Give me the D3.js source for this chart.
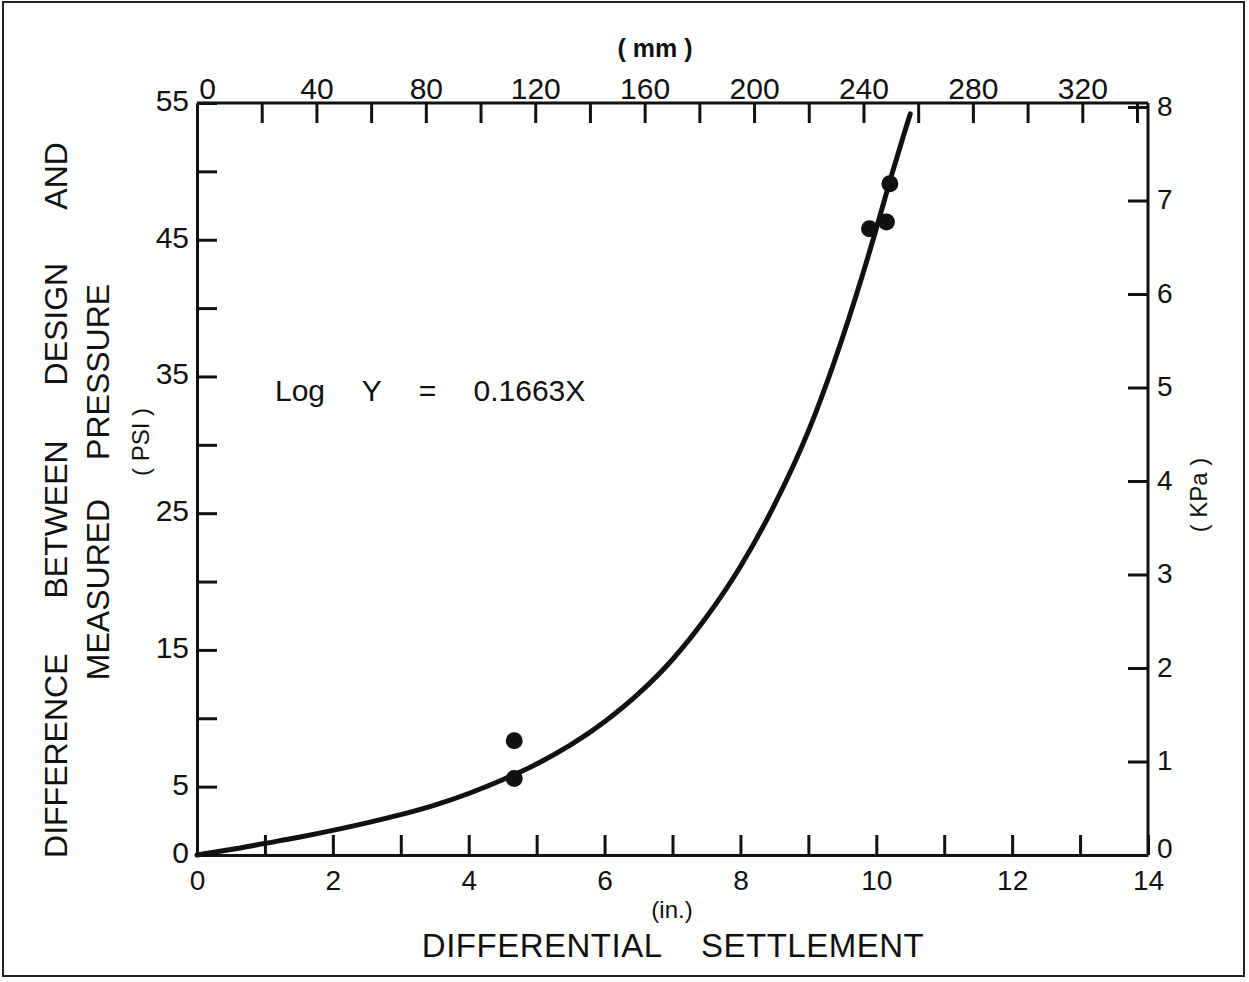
<!DOCTYPE html>
<html>
<head>
<meta charset="utf-8">
<script src="https://d3js.org/d3.v7.min.js"></script>
<style>
    body { margin: 0; background: #fff; }
    svg text { font-family: "Liberation Sans", Arial, sans-serif; fill: #111; }
    .axis path, .axis line { stroke: #111; stroke-width: 3; }
</style>
</head>
<body>
<svg width="1249" height="982"></svg>
<script>
    // settlement (in.) vs pressure difference (psi), curve
    var curveX = [0, 0.5, 1, 1.5, 2, 2.5, 3, 3.5, 4, 4.5, 5, 5.5, 6, 6.5, 7, 7.5, 8, 8.5, 9, 9.5, 10, 10.2, 10.4, 10.5];
    var curveY = [0, 0.4, 0.85, 1.3, 1.8, 2.35, 2.95, 3.65, 4.5, 5.5, 6.65, 8.05, 9.75, 11.8, 14.3, 17.4, 21.1, 25.6, 31.0, 37.8, 45.8, 49.3, 52.6, 54.2];

    // measured points
    var dotX = [4.67, 4.67, 9.9, 10.15, 10.2];
    var dotY = [8.36, 5.6, 45.8, 46.3, 49.1];

    var inTicks = d3.range(0, 15, 1);
    var inLabels = [0, 2, 4, 6, 8, 10, 12, 14];
    var psiTicks = d3.range(0, 56, 5);
    var psiLabels = [0, 5, 15, 25, 35, 45, 55];
    var mmTicks = d3.range(20, 341, 20);
    var mmLabels = [0, 40, 80, 120, 160, 200, 240, 280, 320];
    var kpaTicks = [0, 1, 2, 3, 4, 5, 6, 7, 8];

    var margin = {left: 197, top: 103};
    var W = 951, H = 752;

    var svg = d3.select('svg');

    // outer frame of the scanned sheet
    svg.append('rect')
        .attr('x', 3).attr('y', 2).attr('width', 1241).attr('height', 974)
        .attr('fill', 'none').attr('stroke', '#222').attr('stroke-width', 2);

    var g = svg.append('g').attr('transform', 'translate(' + margin.left + ',' + margin.top + ')');

    var x = d3.scaleLinear().domain([0, 14]).range([0, W]);
    var y = d3.scaleLinear().domain([0, 55]).range([H, 0]);
    // the printed mm scale does not line up exactly with the inch scale
    var xMm = d3.scaleLinear().domain([0, 340]).range([10, 940]);
    var yKpa = d3.scaleLinear().domain([0, 8]).range([H, 4]);

    var bottomAx = g.append('g').attr('class', 'axis')
        .attr('transform', 'translate(0,' + H + ')')
        .call(d3.axisBottom(x).tickValues(inTicks).tickSize(-20).tickSizeOuter(0).tickPadding(15)
            .tickFormat(function (d) { return inLabels.indexOf(d) >= 0 ? d : ''; }));
    bottomAx.selectAll('text').style('font-size', '28px');

    var leftAx = g.append('g').attr('class', 'axis')
        .call(d3.axisLeft(y).tickValues(psiTicks).tickSize(-20).tickSizeOuter(0).tickPadding(8)
            .tickFormat(function (d) { return psiLabels.indexOf(d) >= 0 ? d : ''; }));
    leftAx.selectAll('text').style('font-size', '30px').attr('dy', '0.25em');

    var topAx = g.append('g').attr('class', 'axis')
        .call(d3.axisTop(xMm).tickValues([0].concat(mmTicks)).tickSize(-20).tickSizeOuter(0).tickPadding(4)
            .tickFormat(function (d) { return mmLabels.indexOf(d) >= 0 ? d : ''; }));
    topAx.select('.domain').attr('d', 'M' + x(0) + ',0H' + x(14));
    topAx.selectAll('.tick').filter(function (d) { return d === 0; }).select('line').remove();
    topAx.selectAll('text').style('font-size', '30px');

    var rightAx = g.append('g').attr('class', 'axis')
        .attr('transform', 'translate(' + W + ',0)')
        .call(d3.axisRight(yKpa).tickValues(kpaTicks).tickSize(-20).tickSizeOuter(0).tickPadding(9));
    rightAx.select('.domain').attr('d', 'M0,0V' + H);
    rightAx.selectAll('text').style('font-size', '28px').attr('dy', '0.3em');
    rightAx.selectAll('.tick').filter(function (d) { return d === 0; }).select('text').attr('dy', '0.1em');

    // fitted curve
    var line = d3.line()
        .x(function (d) { return x(d[0]); })
        .y(function (d) { return y(d[1]); })
        .curve(d3.curveMonotoneX);
    g.append('path')
        .datum(d3.zip(curveX, curveY))
        .attr('d', line)
        .attr('fill', 'none')
        .attr('stroke', '#111')
        .attr('stroke-width', 5)
        .attr('stroke-linecap', 'round');

    g.selectAll('circle.pt').data(d3.zip(dotX, dotY)).enter().append('circle')
        .attr('class', 'pt')
        .attr('cx', function (d) { return x(d[0]); })
        .attr('cy', function (d) { return y(d[1]); })
        .attr('r', 8.5)
        .attr('fill', '#111');

    // labels
    svg.append('text')
        .attr('x', 673).attr('y', 957)
        .attr('text-anchor', 'middle')
        .style('font-size', '33px').style('letter-spacing', '0.5px').style('word-spacing', '30px')
        .text('DIFFERENTIAL SETTLEMENT');

    svg.append('text')
        .attr('x', 672).attr('y', 918)
        .attr('text-anchor', 'middle')
        .style('font-size', '24px')
        .text('(in.)');

    svg.append('text')
        .attr('x', 655).attr('y', 57)
        .attr('text-anchor', 'middle')
        .style('font-size', '25px').style('font-weight', 'bold')
        .text('( mm )');

    svg.append('text')
        .attr('transform', 'translate(67,500) rotate(-90)')
        .attr('text-anchor', 'middle')
        .style('font-size', '32px').style('word-spacing', '46px')
        .text('DIFFERENCE BETWEEN DESIGN AND');

    svg.append('text')
        .attr('transform', 'translate(109,482) rotate(-90)')
        .attr('text-anchor', 'middle')
        .style('font-size', '32px').style('word-spacing', '30px')
        .text('MEASURED PRESSURE');

    svg.append('text')
        .attr('transform', 'translate(149,442) rotate(-90)')
        .attr('text-anchor', 'middle')
        .style('font-size', '24px')
        .text('( PSI )');

    svg.append('text')
        .attr('transform', 'translate(1207,495) rotate(-90)')
        .attr('text-anchor', 'middle')
        .style('font-size', '24px')
        .text('( KPa )');

    svg.append('text')
        .attr('x', 275).attr('y', 401)
        .style('font-size', '30px').style('word-spacing', '29px')
        .text('Log Y = 0.1663X');
</script>
</body>
</html>
